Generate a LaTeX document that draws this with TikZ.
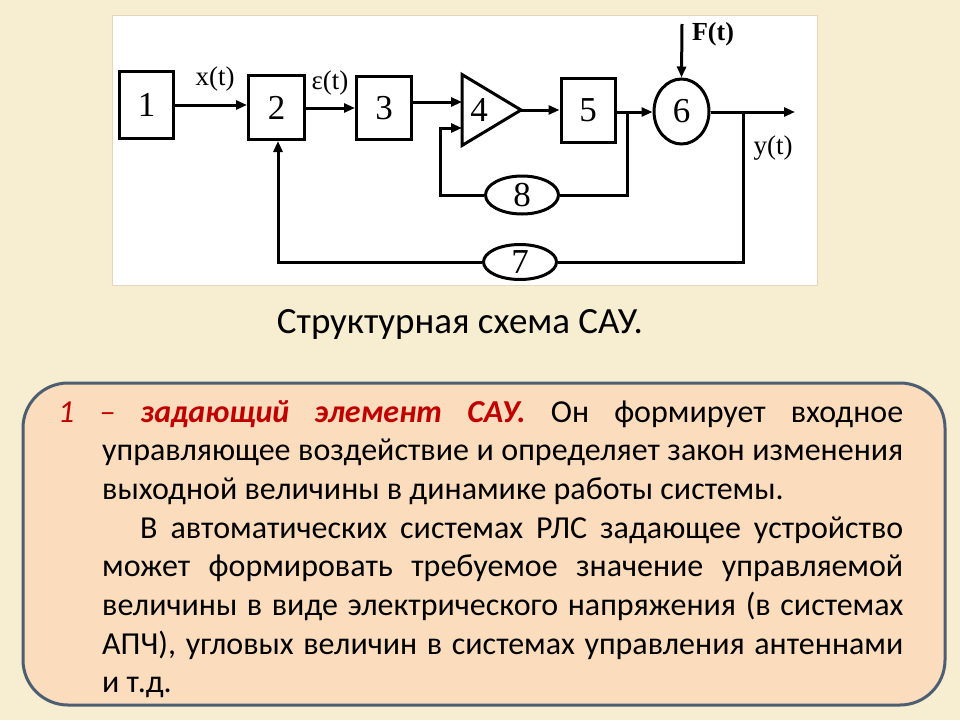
\documentclass[tikz,border=0pt]{standalone}
\usepackage{fontspec}
\setmainfont{Carlito}
\newfontfamily\tnr{Liberation Serif}
\usetikzlibrary{arrows.meta,shapes.geometric}
\definecolor{bgc}{HTML}{F7EDD0}
\definecolor{boxfill}{HTML}{FBDCBC}
\definecolor{boxline}{HTML}{4E5E72}
\definecolor{darkred}{HTML}{C00000}
\definecolor{panelline}{HTML}{E6D5B8}
\tikzset{
  blk/.style={draw, line width=3pt, rectangle, inner sep=0pt, font=\tnr\fontsize{35}{35}\selectfont},
  ell/.style={draw, line width=3pt, ellipse, inner sep=0pt, font=\tnr\fontsize{35}{35}\selectfont},
  wire/.style={line width=3pt},
  arr/.style={line width=3pt, -{Triangle[length=11pt,width=9pt]}},
  sig/.style={font=\tnr\fontsize{27}{27}\selectfont, inner sep=0pt},
}
\begin{document}
\begin{tikzpicture}[x=1pt,y=-1pt]
\fill[bgc] (0,0) rectangle (960,720);
\useasboundingbox (0,0) rectangle (960,720);
% panel
\filldraw[fill=white, draw=panelline, line width=1pt] (112,15) rectangle (817,285);
% blocks
\node[blk, minimum width=54pt, minimum height=67pt] (b1) at (146.5,105) {1};
\node[blk, minimum width=56pt, minimum height=64pt] (b2) at (276.5,107.5) {2};
\node[blk, minimum width=55pt, minimum height=63pt] (b3) at (384,108) {3};
\coordinate (t4top) at (462,74.5);
\coordinate (t4bot) at (462,145.5);
\coordinate (t4tip) at (521,110);
\coordinate (in1) at (462,102);
\coordinate (in2) at (462,128);
\draw[wire, line join=miter] (t4top) -- (t4tip) -- (t4bot) -- cycle;
\node[font=\tnr\fontsize{35}{35}\selectfont, inner sep=0pt] (n4) at (479,110) {4};
\node[blk, minimum width=54pt, minimum height=64pt] (b5) at (588,110) {5};
\node[ell, minimum width=55pt, minimum height=65pt] (c6) at (681.5,111.5) {6};
\node[ell, minimum width=73pt, minimum height=38pt] (e8) at (522,195) {8};
\node[ell, minimum width=73pt, minimum height=35pt] (e7) at (520,262) {7};
\coordinate (j1) at (627,112);
\coordinate (j2) at (743,112);
\coordinate (out) at (795,112);
\coordinate (fin) at (682,24);
\coordinate (k8) at (440,195);
\coordinate (k7) at (278,262);
% connectors
\draw[arr] (b1.east |- 0,105) -- (b2.west |- 0,105);
\draw[arr] (b2.east |- 0,108) -- (b3.west |- 0,108);
\draw[arr] (b3.east |- in1) -- (in1);
\draw[arr] (t4tip) -- (b5.west |- t4tip);
\draw[arr] (b5.east |- j1) -- (c6.west |- j1);
\draw[wire] (e8.east) -- (j1 |- e8.east) -- (j1);
\draw[arr] (e8.west) -- (k8) |- (in2);
\draw[arr] (c6.east |- j2) -- (out);
\draw[wire] (j2) |- (e7.east);
\draw[arr] (e7.west) -- (k7) -- (b2.south -| k7);
\draw[arr] (fin) -- (c6.north);
% signal labels
\node[sig] (lx) at (215,79) {x(t)};
\node[sig] (le) at (330,83) {ε(t)};
\node[sig, font=\tnr\bfseries\fontsize{26}{26}\selectfont] (lf) at (713,34) {F(t)};
\node[sig] (ly) at (773,148) {y(t)};
% caption
\node[inner sep=0pt, anchor=base, font=\fontsize{37}{37}\selectfont] (cap) at (460,333) {Структурная схема САУ.};
% text box
\draw[fill=boxfill, draw=boxline, line width=3pt, rounded corners=45pt] (23,383) rectangle (945,705);
\node[inner sep=0pt, anchor=base west] (txt) at (58,422) {\parbox[t]{845pt}{%
\fontsize{32}{38.7}\selectfont
\hangindent=44pt \hangafter=1 \noindent
{\color{darkred}\itshape 1 – \bfseries задающий элемент САУ.} Он формирует входное\linebreak
управляющее воздействие и определяет закон изменения\linebreak
выходной величины в динамике работы системы.\par
\leftskip=44pt \parindent=38pt
В автоматических системах РЛС задающее устройство\linebreak
может формировать требуемое значение управляемой\linebreak
величины в виде электрического напряжения (в системах\linebreak
АПЧ), угловых величин в системах управления антеннами\linebreak
и т.д.\par}};
\end{tikzpicture}
\end{document}
